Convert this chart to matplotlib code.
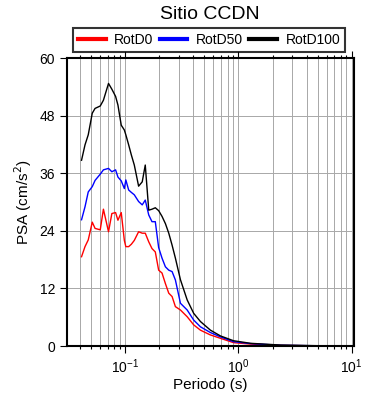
import matplotlib
matplotlib.use('Agg')
import matplotlib.pyplot as plt
import numpy as np
from matplotlib.ticker import LogLocator, NullFormatter, FixedLocator

plt.rcParams['font.family'] = ['Liberation Sans', 'DejaVu Sans']

# Periods (s)
periods = [0.041, 0.044, 0.047, 0.051, 0.054, 0.060, 0.064, 0.071, 0.076, 0.082,
           0.086, 0.092, 0.098, 0.101, 0.107, 0.113, 0.120, 0.131, 0.141, 0.150,
           0.161, 0.172, 0.184, 0.197, 0.211, 0.226, 0.242, 0.259, 0.277, 0.307,
           0.352, 0.402, 0.461, 0.565, 0.693, 0.903, 1.28, 2.36, 5.3, 10.0]

rotd0 = [18.6, 20.7, 22.1, 25.8, 24.5, 24.2, 28.5, 23.8, 27.6, 27.8,
         26.2, 27.8, 22.0, 20.7, 20.7, 21.2, 22.0, 23.8, 23.5, 23.5,
         21.7, 20.3, 19.6, 15.8, 15.2, 13.0, 11.0, 10.3, 8.2, 7.5,
         6.1, 4.4, 3.3, 2.3, 1.6, 0.7, 0.4, 0.12, 0.03, 0.01]

rotd50 = [26.3, 29.0, 32.1, 33.2, 34.5, 35.8, 36.7, 37.0, 36.3, 36.7,
          35.2, 34.4, 32.8, 34.6, 32.5, 32.0, 31.5, 30.1, 29.4, 30.4,
          27.3, 25.9, 25.9, 20.5, 18.3, 16.5, 15.8, 15.5, 13.75, 8.9,
          7.5, 5.4, 4.0, 2.8, 1.9, 0.9, 0.5, 0.15, 0.04, 0.02]

rotd100 = [38.7, 41.9, 44.0, 48.5, 49.5, 50.0, 51.2, 54.7, 53.5, 52.0,
           50.2, 46.0, 45.0, 44.0, 41.9, 39.8, 37.7, 33.3, 34.2, 37.7,
           28.3, 28.5, 28.8, 28.2, 27.0, 25.5, 23.5, 21.0, 18.3, 13.8,
           9.6, 6.8, 5.1, 3.3, 2.1, 1.1, 0.56, 0.2, 0.05, 0.02]

fig = plt.figure(figsize=(3.9, 4.0), dpi=100)
ax = fig.add_axes([67/390, 54/400, 287/390, 288/400])

ax.plot(periods, rotd0, color='red', lw=1.0, label='RotD0')
ax.plot(periods, rotd50, color='blue', lw=1.0, label='RotD50')
ax.plot(periods, rotd100, color='black', lw=1.0, label='RotD100')

ax.set_xscale('log')
ax.set_xlim(0.0305, 10.5)
ax.set_ylim(0, 60)
ax.yaxis.set_major_locator(FixedLocator([0, 12, 24, 36, 48, 60]))
ax.xaxis.set_major_locator(LogLocator(base=10, numticks=10))
ax.xaxis.set_minor_locator(LogLocator(base=10, subs=np.arange(2, 10), numticks=20))
ax.xaxis.set_minor_formatter(NullFormatter())

ax.grid(True, which='both', axis='x', color='#a8a8a8', lw=0.7)
ax.grid(True, which='major', axis='y', color='#a8a8a8', lw=0.7)
ax.set_axisbelow(True)

for s in ax.spines.values():
    s.set_linewidth(1.5)
ax.tick_params(axis='x', which='major', direction='out', length=5, width=0.8,
               top=True, labelsize=10)
ax.tick_params(axis='x', which='minor', direction='out', length=2.5, width=0.8,
               top=True)
ax.tick_params(axis='y', which='major', direction='out', length=5, width=0.8,
               right=False, labelsize=10)

ax.set_xlabel('Periodo (s)', fontsize=11, labelpad=1)
ax.set_ylabel('PSA (cm/s$^2$)', fontsize=11, labelpad=4)
fig.suptitle('Sitio CCDN', x=210/390, y=0.985, fontsize=14)

leg = ax.legend(loc='lower left', bbox_to_anchor=(73/390, 348/400, 272/390, 25/400),
                bbox_transform=fig.transFigure, ncol=3, mode='expand',
                fontsize=10, frameon=True, fancybox=False, borderaxespad=0,
                handlelength=2.0, handletextpad=0.6, borderpad=0.35)
leg.get_frame().set_edgecolor('black')
leg.get_frame().set_linewidth(1.5)
for line in leg.get_lines():
    line.set_linewidth(3)

fig.savefig('out.png', dpi=100)
